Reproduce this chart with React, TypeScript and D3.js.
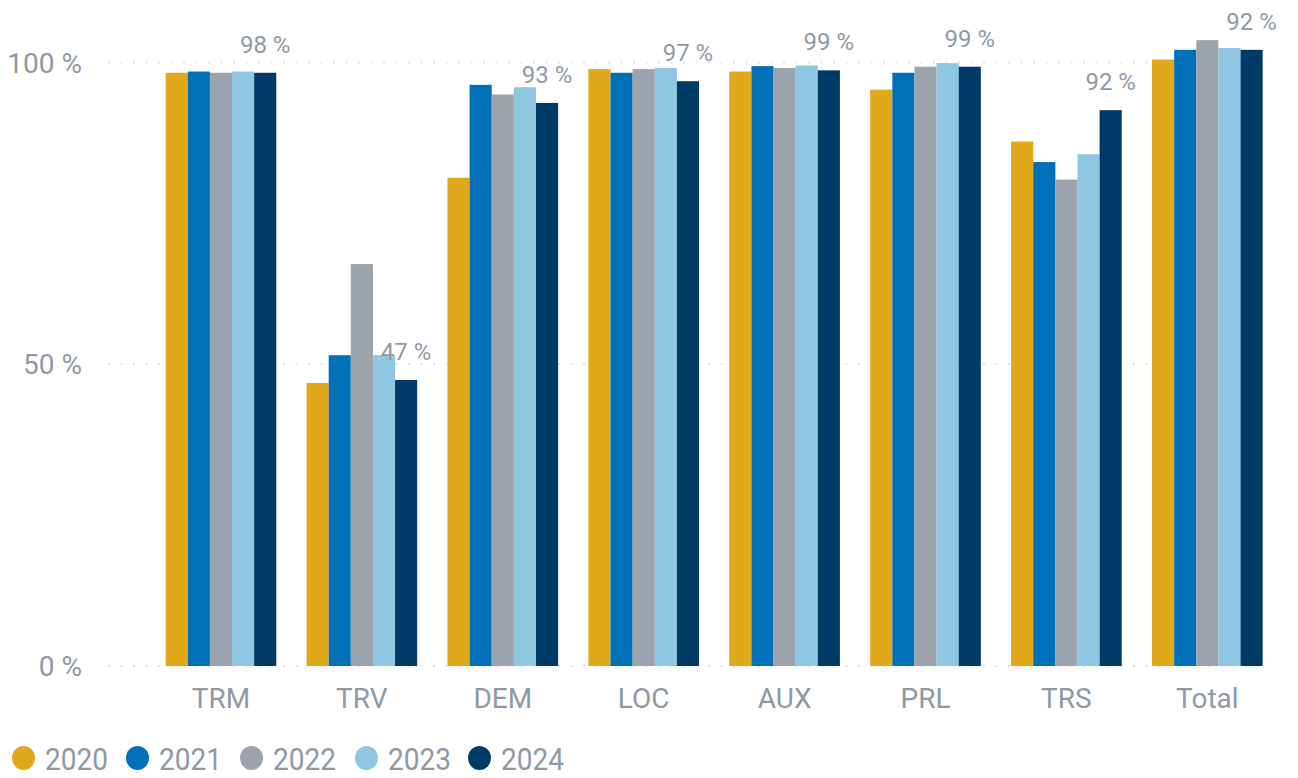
import React, { useEffect, useRef } from 'react';
import * as d3 from 'd3';

// categories and series
const categories = ['TRM', 'TRV', 'DEM', 'LOC', 'AUX', 'PRL', 'TRS', 'Total'];
const years = ['2020', '2021', '2022', '2023', '2024'];
const colors = ['#E1A91A', '#0070B8', '#9CA3AC', '#8FC6E2', '#003B68'];

const v2020 = [98.3, 46.9, 80.9, 98.9, 98.5, 95.5, 86.9, 100.5];
const v2021 = [98.5, 51.5, 96.3, 98.3, 99.4, 98.3, 83.5, 102.1];
const v2022 = [98.3, 66.6, 94.7, 98.9, 99.1, 99.3, 80.6, 103.7];
const v2023 = [98.5, 51.5, 95.9, 99.1, 99.5, 99.9, 84.8, 102.4];
const v2024 = [98.3, 47.4, 93.3, 96.9, 98.7, 99.3, 92.1, 102.1];
const seriesValues = [v2020, v2021, v2022, v2023, v2024];

// labels shown above the 2024 bar
const labelValues = [98, 47, 93, 97, 99, 99, 92, 92];
const yTicks = [0, 50, 100];

const FONT = "'Roboto', sans-serif";
const TEXT = '#8F99A3';

const App = () => {
  const svgRef = useRef(null);

  useEffect(() => {
    const width = 1298;
    const height = 778;
    const svg = d3.select(svgRef.current);
    svg.selectAll('*').remove();

    const x = d3.scaleBand()
      .domain(categories)
      .range([109.3, 1319])
      .paddingInner(0.215)
      .paddingOuter(0.4);

    const xInner = d3.scaleBand()
      .domain(years)
      .range([0, x.bandwidth()]);

    const y = d3.scaleLinear()
      .domain([0, 100])
      .range([666, 62.5]);

    // dotted gridlines
    svg.append('g')
      .selectAll('line')
      .data(yTicks)
      .enter().append('line')
      .attr('x1', 108)
      .attr('x2', 1268)
      .attr('y1', d => y(d))
      .attr('y2', d => y(d))
      .attr('stroke', '#E2E2E2')
      .attr('stroke-width', 2)
      .attr('stroke-dasharray', '2 10.5');

    // y axis labels
    svg.append('g')
      .selectAll('text')
      .data(yTicks)
      .enter().append('text')
      .attr('x', 82)
      .attr('y', d => y(d) + 10)
      .attr('text-anchor', 'end')
      .style('font-family', FONT)
      .style('font-size', '28px')
      .style('fill', TEXT)
      .text(d => `${d} %`);

    // bars
    const groups = svg.append('g')
      .selectAll('g')
      .data(categories)
      .enter().append('g')
      .attr('transform', d => `translate(${x(d)},0)`);

    groups.selectAll('rect')
      .data((d, i) => years.map((yr, j) => ({ yr, j, v: seriesValues[j][i] })))
      .enter().append('rect')
      .attr('x', d => xInner(d.yr))
      .attr('width', xInner.bandwidth())
      .attr('y', d => y(d.v))
      .attr('height', d => y(0) - y(d.v))
      .attr('fill', d => colors[d.j]);

    // data labels above the last series
    groups.append('text')
      .attr('x', xInner('2024') + xInner.bandwidth() / 2)
      .attr('y', (d, i) => y(v2024[i]) - 20)
      .attr('text-anchor', 'middle')
      .style('font-family', FONT)
      .style('font-size', '24px')
      .style('fill', TEXT)
      .text((d, i) => `${labelValues[i]} %`);

    // x axis labels
    svg.append('g')
      .selectAll('text')
      .data(categories)
      .enter().append('text')
      .attr('x', d => x(d) + x.bandwidth() / 2)
      .attr('y', 708)
      .attr('text-anchor', 'middle')
      .style('font-family', FONT)
      .style('font-size', '28px')
      .style('fill', TEXT)
      .text(d => d);

    // legend
    const legendX = [12, 126, 240, 355, 468];
    const legend = svg.append('g')
      .selectAll('g')
      .data(years)
      .enter().append('g')
      .attr('transform', (d, i) => `translate(${legendX[i]},758)`);

    legend.append('ellipse')
      .attr('cx', 11.5)
      .attr('cy', 0)
      .attr('rx', 11.5)
      .attr('ry', 12)
      .attr('fill', (d, i) => colors[i]);

    legend.append('text')
      .attr('x', 33)
      .attr('y', 12)
      .attr('textLength', 63)
      .attr('lengthAdjust', 'spacingAndGlyphs')
      .style('font-family', FONT)
      .style('font-size', '32px')
      .style('fill', TEXT)
      .text(d => d);

    svg.attr('width', width).attr('height', height);
  }, []);

  return (
    <svg
      ref={svgRef}
      style={{ position: 'absolute', left: 0, top: 0, background: '#fff' }}
    ></svg>
  );
};

export default App;
